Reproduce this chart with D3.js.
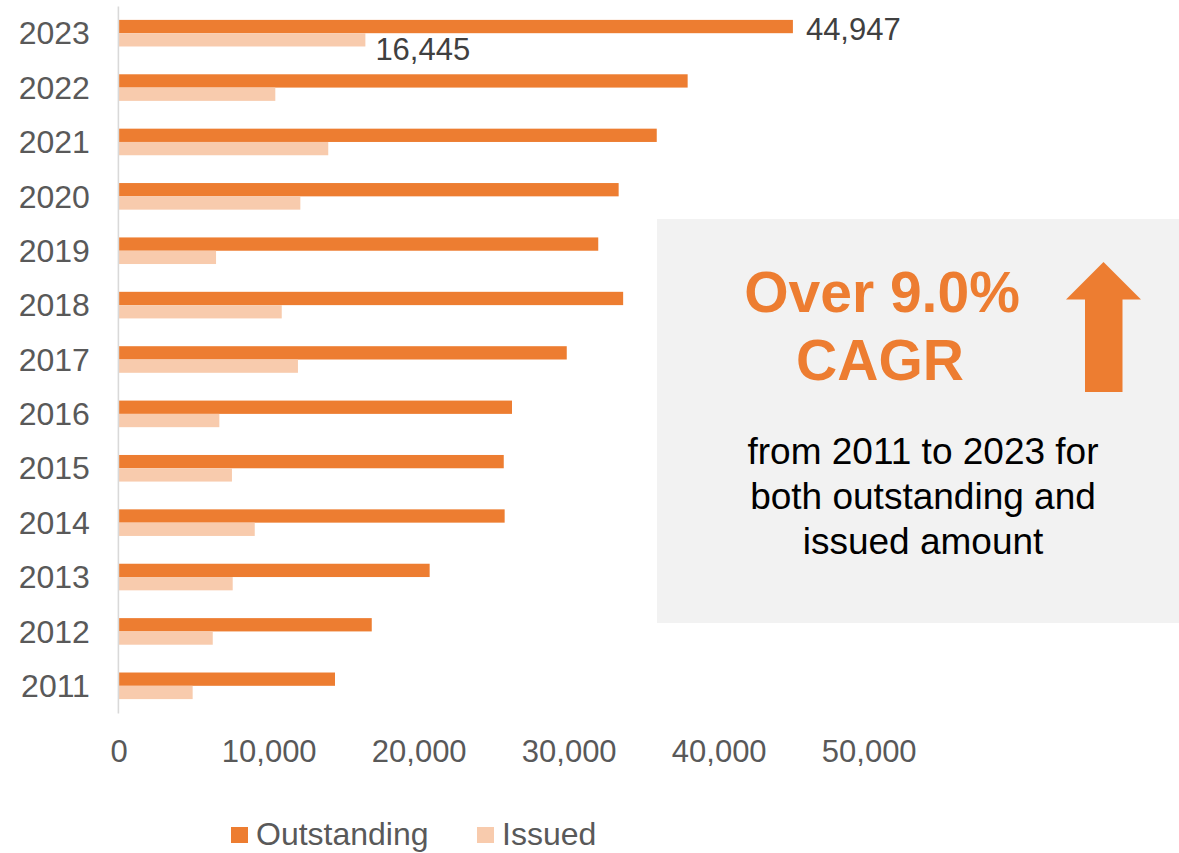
<!DOCTYPE html>
<html>
<head>
<meta charset="utf-8">
<script src="https://cdn.jsdelivr.net/npm/d3@7"></script>
<style>
  html, body { margin: 0; padding: 0; background: #ffffff; }
  svg { display: block; font-family: "Liberation Sans", Arial, Helvetica, sans-serif; }
</style>
</head>
<body>
<svg id="chart" width="1179" height="853"></svg>
<script>
// Green bond market, 2011–2023 (amounts)
const years = ["2011", "2012", "2013", "2014", "2015", "2016", "2017", "2018", "2019", "2020", "2021", "2022", "2023"];
const outstanding = [14420, 16870, 20730, 25730, 25670, 26220, 29870, 33630, 31970, 33330, 35870, 37930, 44947];
const issued = [4930, 6270, 7600, 9070, 7550, 6710, 11950, 10870, 6490, 12110, 13970, 10440, 16445];
const xTicks = [0, 10000, 20000, 30000, 40000, 50000];
const seriesNames = ["Outstanding", "Issued"];
const seriesColors = ["#ED7D31", "#F8CBAD"];
const labelledYear = "2023";

const svg = d3.select("#chart");
const fmt = d3.format(",");

const x = d3.scaleLinear().domain([0, 50000]).range([118.7, 868.7]);
const y = d3.scaleBand()
  .domain(years.slice().reverse())
  .range([6, 713])
  .paddingInner(0.511)
  .paddingOuter(0.2555);
const sub = d3.scaleBand().domain(seriesNames).range([0, y.bandwidth()]);
const color = d3.scaleOrdinal().domain(seriesNames).range(seriesColors);

const rows = years.map((yr, i) => ({
  year: yr,
  values: [
    { key: "Outstanding", value: outstanding[i] },
    { key: "Issued", value: issued[i] }
  ]
}));

// Bars
const groups = svg.append("g").selectAll("g")
  .data(rows)
  .join("g")
  .attr("transform", d => `translate(0,${y(d.year)})`);

groups.selectAll("rect")
  .data(d => d.values)
  .join("rect")
  .attr("x", x(0))
  .attr("y", d => sub(d.key))
  .attr("width", d => x(d.value) - x(0))
  .attr("height", sub.bandwidth())
  .attr("fill", d => color(d.key));

// Category axis (years) on the left
const yAxis = svg.append("g")
  .attr("transform", `translate(${x(0) - 0.8},0)`)
  .call(d3.axisLeft(y).tickSize(0).tickPadding(28));
yAxis.select(".domain").attr("stroke", "#d9d9d9").attr("stroke-width", 1.6);
yAxis.selectAll("text")
  .attr("font-size", 32)
  .attr("fill", "#595959")
  .attr("dy", "0.35em")
  .style("font-family", "'Liberation Sans', Arial, sans-serif");

// Value axis labels (no line)
const xAxis = svg.append("g")
  .attr("transform", `translate(0,730)`)
  .call(d3.axisBottom(x).tickValues(xTicks).tickFormat(fmt).tickSize(0).tickPadding(0));
xAxis.select(".domain").remove();
xAxis.selectAll("text")
  .attr("font-size", 31)
  .attr("fill", "#595959")
  .attr("y", 0)
  .attr("dy", "1.02em")
  .style("font-family", "'Liberation Sans', Arial, sans-serif");

// Data labels for the latest year
const last = rows.find(r => r.year === labelledYear);
svg.append("text")
  .attr("x", x(last.values[0].value) + 13)
  .attr("y", y(last.year) + sub("Outstanding") + sub.bandwidth() / 2 + 13)
  .attr("font-size", 31)
  .attr("fill", "#404040")
  .text(fmt(last.values[0].value));
svg.append("text")
  .attr("x", x(last.values[1].value) + 10)
  .attr("y", y(last.year) + sub("Issued") + sub.bandwidth() / 2 + 20)
  .attr("font-size", 31)
  .attr("fill", "#404040")
  .text(fmt(last.values[1].value));

// Legend
const legendPos = [231, 477];
const legend = svg.append("g").selectAll("g")
  .data(seriesNames)
  .join("g")
  .attr("transform", (d, i) => `translate(${legendPos[i]},827)`);
legend.append("rect")
  .attr("width", 17).attr("height", 16)
  .attr("fill", d => color(d));
legend.append("text")
  .attr("x", 25).attr("y", 18)
  .attr("font-size", 32)
  .attr("fill", "#595959")
  .text(d => d);

// Highlight panel
const panel = svg.append("g");
panel.append("rect")
  .attr("x", 657).attr("y", 219)
  .attr("width", 522).attr("height", 404)
  .attr("fill", "#f2f2f2");
panel.append("text")
  .attr("x", 882).attr("y", 312)
  .attr("text-anchor", "middle")
  .attr("font-size", 57).attr("font-weight", "bold")
  .attr("fill", "#ED7D31")
  .text("Over 9.0%");
panel.append("text")
  .attr("x", 880).attr("y", 380)
  .attr("text-anchor", "middle")
  .attr("font-size", 57).attr("font-weight", "bold")
  .attr("fill", "#ED7D31")
  .text("CAGR");
panel.append("polygon")
  .attr("points", "1103.5,262 1141,299.5 1122.5,299.5 1122.5,392 1085,392 1085,299.5 1066,299.5")
  .attr("fill", "#ED7D31");
const body = ["from 2011 to 2023 for", "both outstanding and", "issued amount"];
panel.selectAll("text.body")
  .data(body)
  .join("text")
  .attr("class", "body")
  .attr("x", 923)
  .attr("y", (d, i) => 464 + i * 45)
  .attr("text-anchor", "middle")
  .attr("font-size", 37)
  .attr("fill", "#000000")
  .text(d => d);
</script>
</body>
</html>
